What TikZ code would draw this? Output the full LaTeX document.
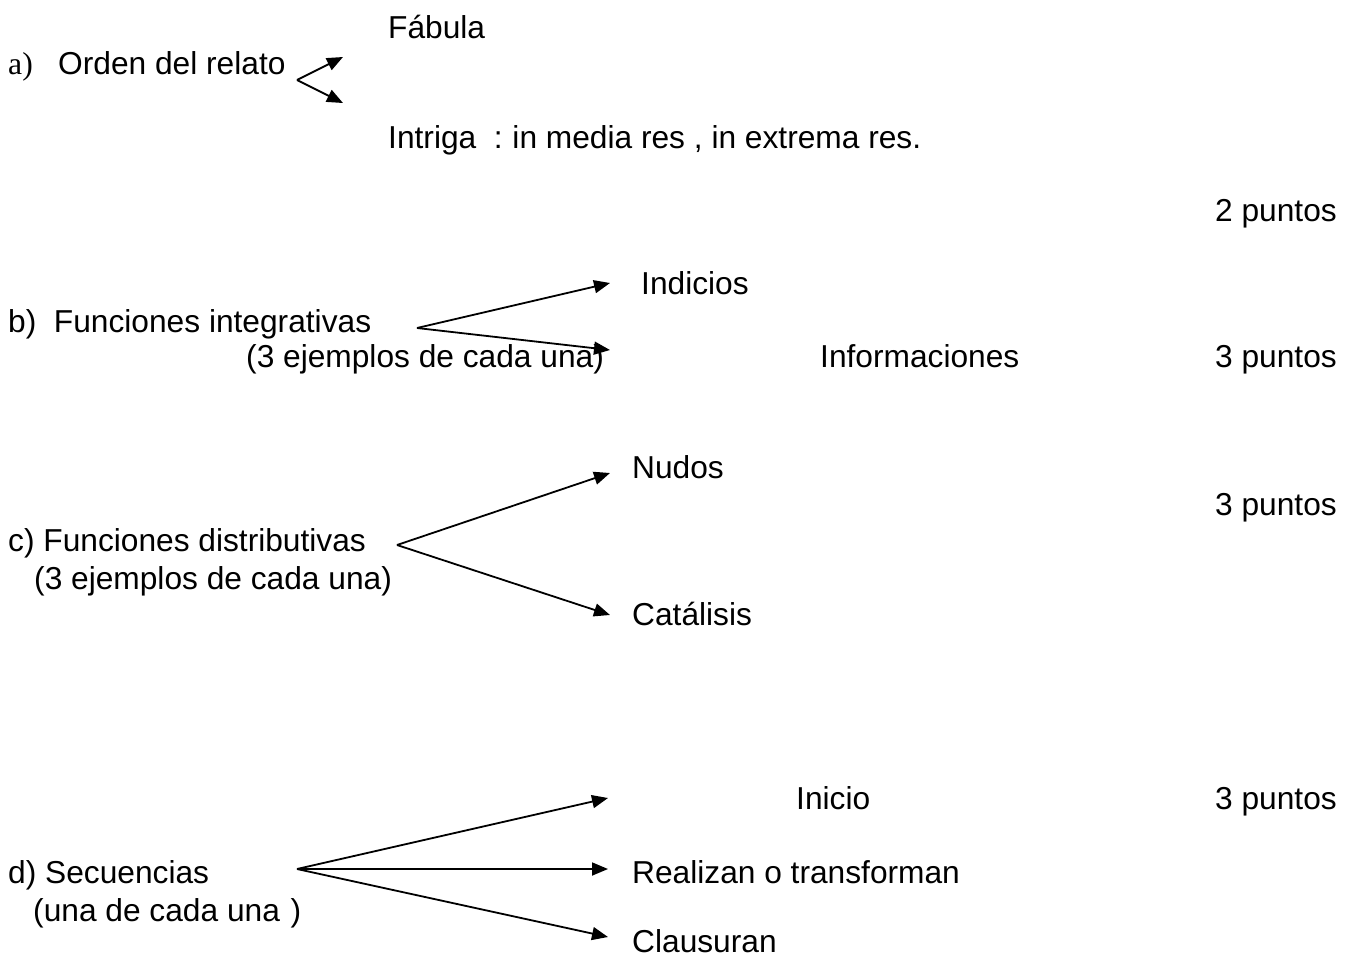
\documentclass[tikz,border=0pt]{standalone}
\usepackage{fontspec}
\setmainfont{Liberation Sans}
\newfontfamily\serifa{Liberation Serif}
\usetikzlibrary{arrows.meta}
\tikzset{
  txt/.style={anchor=base west, inner sep=0pt, font=\fontsize{31.7}{38}\selectfont},
  txtr/.style={anchor=base east, inner sep=0pt, font=\fontsize{31.7}{38}\selectfont},
  arr/.style={line width=1.8pt, -{Triangle[length=16pt,width=13pt]}},
}
\begin{document}
\begin{tikzpicture}[x=1pt,y=-1pt]
\useasboundingbox (0,0) rectangle (1355,956);
% a
\node[txt] (fab) at (388,38) {Fábula};
\node[txt] (alab) at (8,74) {\serifa a)};
\node[txt] (orden) at (58,74) {Orden del relato};
\node[txt] (intr) at (388,148) {Intriga\ \ :\hspace{-2pt} in media res , in extrema res.};
\node[txtr] (p2) at (1337,221) {2 puntos};
\coordinate (va) at (297,80);
\coordinate (ta1) at (343,57);
\coordinate (ta2) at (343,103);
\draw[arr] (va) -- (ta1);
\draw[arr] (va) -- (ta2);
% b
\node[txt] (indic) at (641,294) {Indicios};
\node[txt] (funi) at (8,332) {b)\ \ Funciones integrativas};
\node[txt] (ejb) at (246,367) {(3 ejemplos de cada una)};
\node[txt] (infor) at (820,367) {Informaciones};
\node[txtr] (p3b) at (1337,367) {3 puntos};
\coordinate (vb) at (417,328);
\coordinate (tb1) at (610,283);
\coordinate (tb2) at (610,350);
\draw[arr] (vb) -- (tb1);
\draw[arr] (vb) -- (tb2);
% c
\node[txt] (nudos) at (632,478) {Nudos};
\node[txtr] (p3c) at (1337,515) {3 puntos};
\node[txt] (fund) at (8,551) {c) Funciones distributivas};
\node[txt] (ejc) at (34,589) {(3 ejemplos de cada una)};
\node[txt] (catal) at (632,625) {Catálisis};
\coordinate (vc) at (397,545);
\coordinate (tc1) at (610,473);
\coordinate (tc2) at (610,615);
\draw[arr] (vc) -- (tc1);
\draw[arr] (vc) -- (tc2);
% d
\node[txt] (inicio) at (796,809) {Inicio};
\node[txtr] (p3d) at (1337,809) {3 puntos};
\node[txt] (secu) at (8,883) {d) Secuencias};
\node[txt] (ejd) at (33,921) {(una de cada una\hspace{2pt} )};
\node[txt] (realiz) at (632,883) {Realizan o transforman};
\node[txt] (claus) at (632,952) {Clausuran};
\coordinate (vd) at (297,869);
\coordinate (td1) at (608,798);
\coordinate (td2) at (608,869);
\coordinate (td3) at (608,937);
\draw[arr] (vd) -- (td1);
\draw[arr] (vd) -- (td2);
\draw[arr] (vd) -- (td3);
\end{tikzpicture}
\end{document}
